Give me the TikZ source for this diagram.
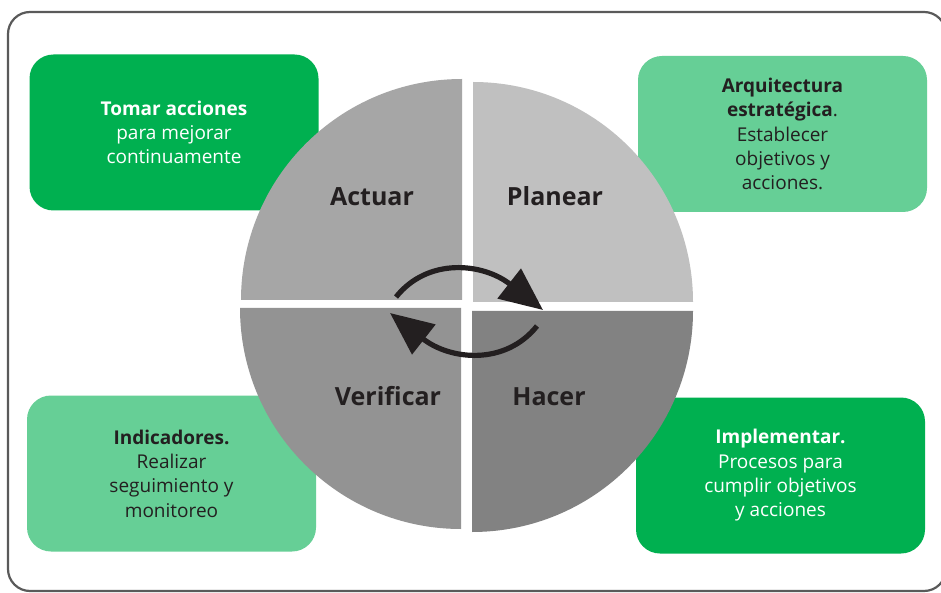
\documentclass[tikz,border=0pt]{standalone}
\usepackage{fontspec}
\setmainfont{Open Sans}
\usetikzlibrary{arrows.meta}
\definecolor{dkgreen}{RGB}{0,176,80}
\definecolor{ltgreen}{RGB}{102,207,150}
\definecolor{qA}{RGB}{166,166,166}
\definecolor{qP}{RGB}{192,192,192}
\definecolor{qV}{RGB}{147,147,147}
\definecolor{qH}{RGB}{130,130,130}
\definecolor{ink}{RGB}{35,31,32}
\definecolor{frame}{RGB}{90,90,90}
\begin{document}
\begin{tikzpicture}[x=1pt,y=1pt,
  box/.style={rounded corners=24pt, minimum width=289pt, minimum height=156pt, inner sep=0pt, align=center,
    font=\fontsize{19}{24.3}\selectfont},
  darkbox/.style={box, fill=dkgreen, text=white},
  lightbox/.style={box, fill=ltgreen, text=ink},
  qlabel/.style={anchor=base, text=ink, font=\fontsize{25}{30}\selectfont\bfseries},
  cyc/.style={line width=5.2pt, draw=ink, -{Triangle[length=43pt,width=37pt]}}]
\useasboundingbox (0,0) rectangle (941,592);
\clip (0,0) rectangle (941,592);
\fill[white] (0,0) rectangle (941,592);
\draw[frame, line width=2.2pt, rounded corners=22pt] (8,1) rectangle (946,580);
% boxes
\node[darkbox] (tl) at (174,459.5) {\textbf{Tomar acciones}\\para mejorar\\continuamente};
\node[lightbox] (tr) at (782.5,458) {\textbf{Arquitectura}\\\textbf{estratégica}.\\Establecer\\objetivos y\\acciones.};
\node[lightbox] (bl) at (171.5,118.5) {\textbf{Indicadores.}\\Realizar\\seguimiento y\\monitoreo};
\node[darkbox] (br) at (780.5,116.5) {\textbf{Implementar.}\\Procesos para\\cumplir objetivos\\y acciones};
% quadrants
\fill[qA] (462,292) -- (241,292) arc[start angle=180, end angle=90, radius=221pt] -- cycle;
\fill[qP] (473,290) -- (693,290) arc[start angle=0, end angle=90, radius=220pt] -- cycle;
\fill[qV] (461,284) -- (240,284) arc[start angle=180, end angle=270, radius=221pt] -- cycle;
\fill[qH] (472,281) -- (693,281) arc[start angle=0, end angle=-90, radius=221pt] -- cycle;
\node[qlabel] (act) at (372,386) {Actuar};
\node[qlabel] (pla) at (555,386) {Planear};
\node[qlabel] (ver) at (388,187) {Verificar};
\node[qlabel] (hac) at (549,187) {Hacer};
% cycle arrows
\coordinate (t0) at (396,295);
\coordinate (t1) at (543,282);
\coordinate (b0) at (537,266);
\coordinate (b1) at (390,279);
\draw[cyc] (t0) .. controls (428,335) and (483,329) .. (t1);
\draw[cyc] (b0) .. controls (505,226) and (450,232) .. (b1);
\end{tikzpicture}
\end{document}
